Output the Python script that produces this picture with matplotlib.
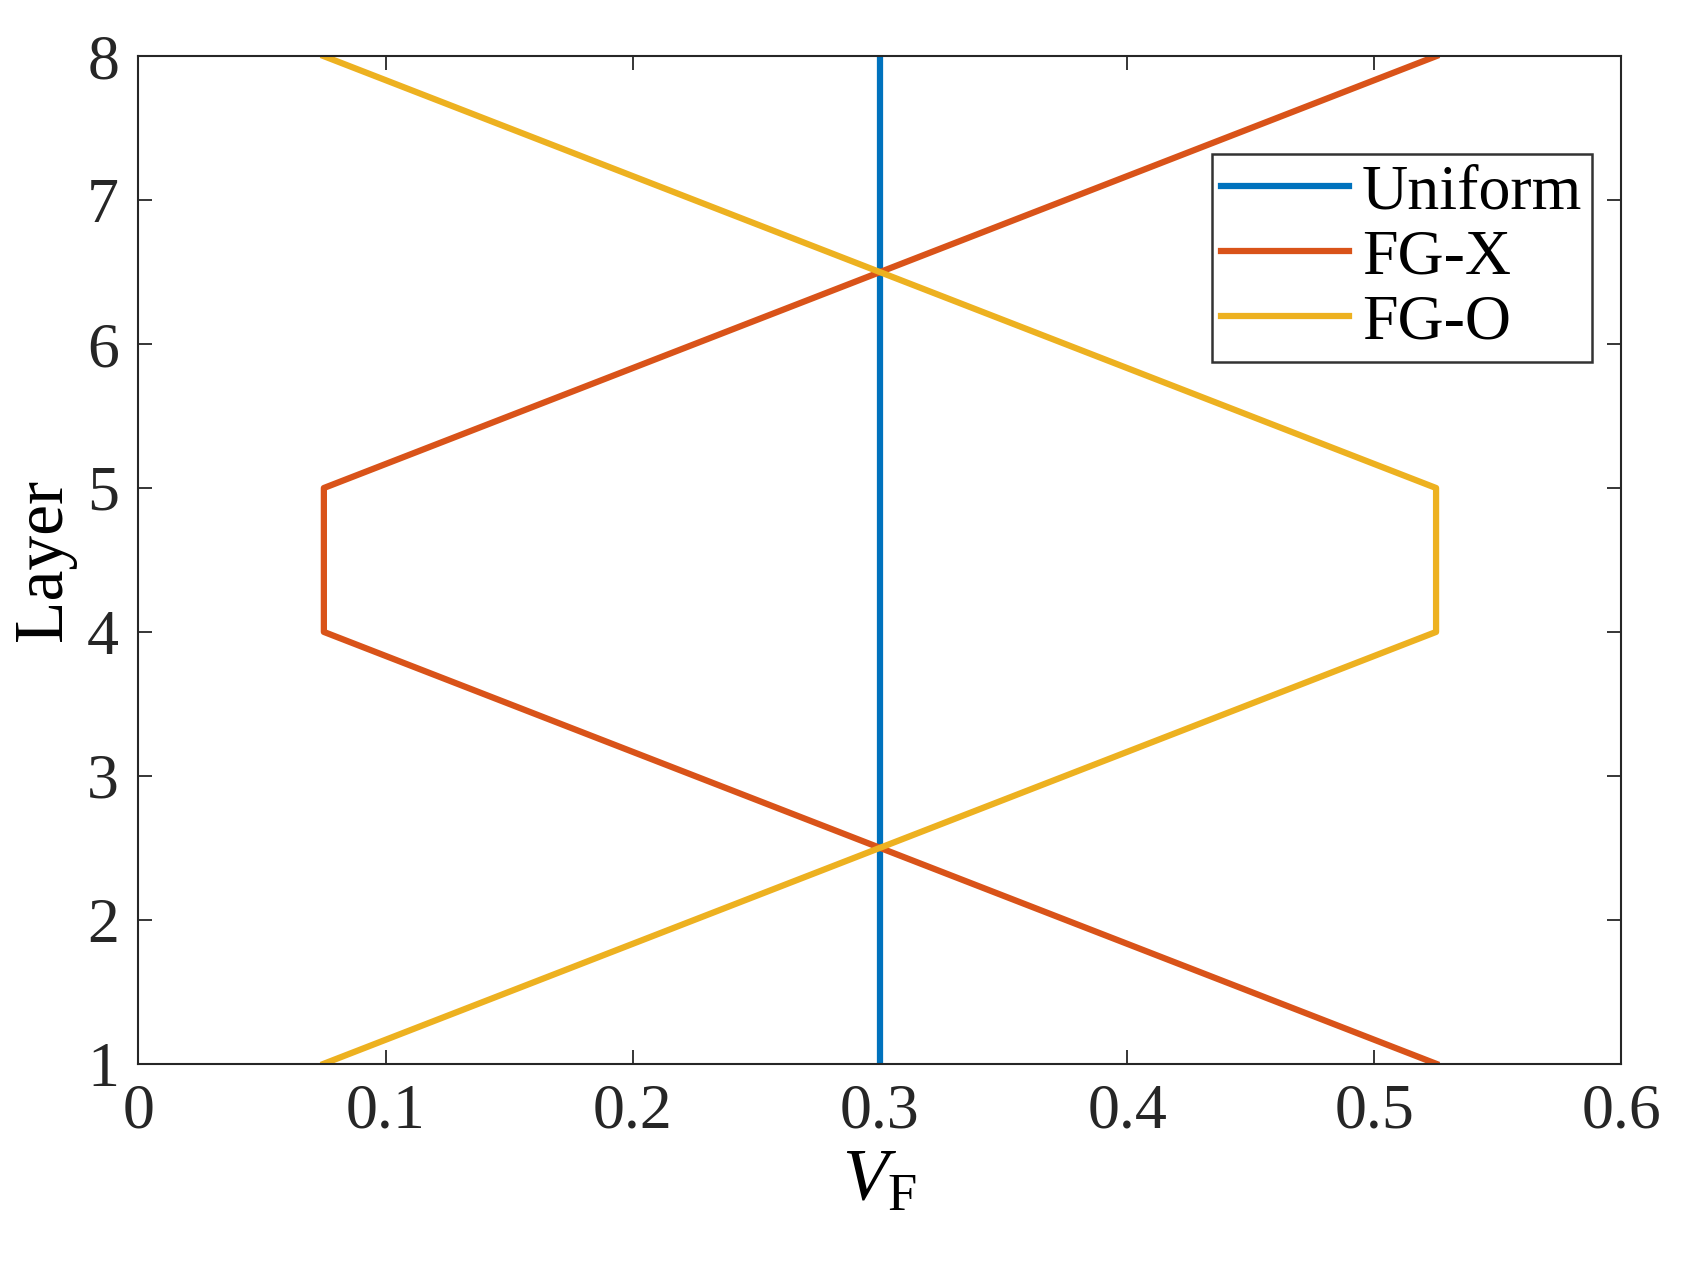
import matplotlib
matplotlib.use('Agg')
import matplotlib.pyplot as plt

layers = [1, 2, 3, 4, 5, 6, 7, 8]
vf_uniform = [0.3, 0.3, 0.3, 0.3, 0.3, 0.3, 0.3, 0.3]
vf_fgx = [0.525, 0.375, 0.225, 0.075, 0.075, 0.225, 0.375, 0.525]
vf_fgo = [0.075, 0.225, 0.375, 0.525, 0.525, 0.375, 0.225, 0.075]

plt.rcParams['font.family'] = ['Liberation Serif', 'DejaVu Serif']
plt.rcParams['mathtext.fontset'] = 'custom'
plt.rcParams['mathtext.rm'] = 'Liberation Serif'
plt.rcParams['mathtext.it'] = 'Liberation Serif:italic'

fig = plt.figure(figsize=(16.89, 12.77), dpi=100)
ax = fig.add_axes([0.082, 0.167, 0.878, 0.789])

ax.plot(vf_uniform, layers, color='#0072BD', lw=4.5, label='Uniform')
ax.plot(vf_fgx, layers, color='#D95319', lw=4.5, label='FG-X')
ax.plot(vf_fgo, layers, color='#EDB120', lw=4.5, label='FG-O')

ax.set_xlim(0, 0.6)
ax.set_ylim(1, 8)
ax.set_xticks([0, 0.1, 0.2, 0.3, 0.4, 0.5, 0.6])
ax.set_xticklabels(['0', '0.1', '0.2', '0.3', '0.4', '0.5', '0.6'])
ax.set_yticks(range(1, 9))
ax.tick_params(direction='in', top=True, right=True, labelsize=46, length=10,
               width=1.3, pad=14, colors='#262626')
for s in ax.spines.values():
    s.set_linewidth(1.5)
    s.set_color('#262626')

ax.set_xlabel(r'$V_{\mathrm{F}}$', fontsize=54, labelpad=6)
ax.set_ylabel('Layer', fontsize=50, labelpad=8)

leg = ax.legend(loc='upper right', bbox_to_anchor=(0.98, 0.903), fontsize=46,
                frameon=True, fancybox=False, edgecolor='black',
                handlelength=2.0, handletextpad=0.2, borderpad=0.15, labelspacing=0.1,
                borderaxespad=0)
leg.get_frame().set_linewidth(1.8)

fig.savefig('out.png', dpi=100)
